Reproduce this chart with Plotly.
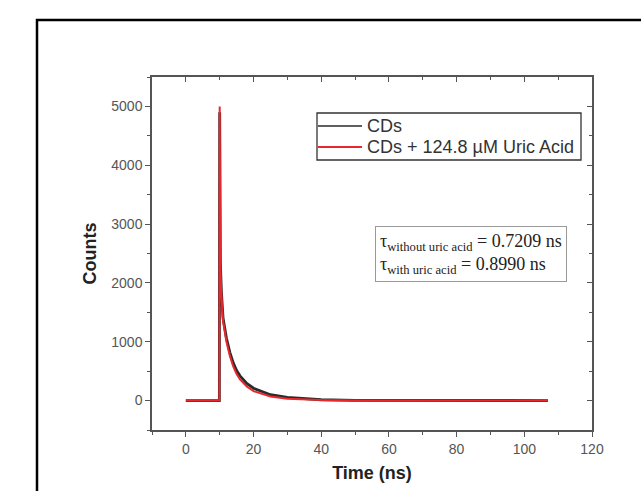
import plotly.graph_objects as go

# Time (ns) sample points
time_ns = [0, 9.9, 10.0, 10.2, 10.5, 11, 12, 13, 14, 15, 16, 18, 20, 25, 30, 40, 50, 70, 90, 107]
counts_cds = [0, 0, 4900, 2350, 1850, 1400, 1060, 820, 640, 510, 420, 290, 210, 100, 55, 14, 5, 2, 1, 0]
counts_cds_ua = [0, 0, 5000, 2300, 1800, 1350, 1000, 760, 580, 450, 360, 240, 160, 70, 30, 8, 3, 1, 0, 0]

series_names = ["CDs", "CDs + 124.8 µM Uric Acid"]
series_colors = ["#2a2a2a", "#e8282c"]
x_ticks = [0, 20, 40, 60, 80, 100, 120]
y_ticks = [0, 1000, 2000, 3000, 4000, 5000]

# plot-area geometry in pixels (for converting legend/frame positions to paper coords)
L, R, T, B = 152, 592, 77, 430
def px(x):
    return (x - L) / (R - L)
def py(y):
    return (B - y) / (B - T)

fig = go.Figure()
fig.add_trace(go.Scatter(x=time_ns, y=counts_cds, mode="lines", name=series_names[0],
                         line=dict(color=series_colors[0], width=2.8)))
fig.add_trace(go.Scatter(x=time_ns, y=counts_cds_ua, mode="lines", name=series_names[1],
                         line=dict(color=series_colors[1], width=2)))
# invisible trace for mirrored axes
fig.add_trace(go.Scatter(x=[-10], y=[-500], xaxis="x2", yaxis="y2", mode="markers",
                         marker=dict(opacity=0), showlegend=False, hoverinfo="skip"))

axcol = "#555555"
common = dict(showgrid=False, zeroline=False, showline=True, linecolor=axcol, linewidth=1.5,
              tickcolor=axcol, tickwidth=1.2, ticklen=5)
fig.update_layout(
    width=641, height=491,
    margin=dict(l=L, r=641 - R, t=T, b=491 - B),
    paper_bgcolor="white", plot_bgcolor="white",
    font=dict(family="Liberation Sans, Arial", color="#444444", size=14),
    showlegend=False,
    xaxis=dict(range=[-10, 120], tickvals=x_ticks, ticks="outside",
               minor=dict(dtick=10, ticks="outside", ticklen=3, tickcolor=axcol),
               title=dict(text="<b>Time (ns)</b>", font=dict(size=18, color="#222222"), standoff=11),
               tickfont=dict(size=14, color="#555555"), **common),
    yaxis=dict(range=[-500, 5500], tickvals=y_ticks, ticks="outside",
               minor=dict(dtick=500, ticks="outside", ticklen=3, tickcolor=axcol),
               title=dict(text="<b>Counts</b>", font=dict(size=18, color="#222222"), standoff=10),
               tickfont=dict(size=14, color="#555555"), **common),
    xaxis2=dict(range=[-10, 120], overlaying="x", side="top", tickvals=x_ticks,
                ticks="inside", showticklabels=False,
                minor=dict(dtick=10, ticks="inside", ticklen=3, tickcolor=axcol), **common),
    yaxis2=dict(range=[-500, 5500], overlaying="y", side="right", anchor="x", tickvals=y_ticks,
                ticks="inside", showticklabels=False,
                minor=dict(dtick=500, ticks="inside", ticklen=3, tickcolor=axcol), **common),
)

# legend box drawn as shapes + text
fig.add_shape(type="rect", xref="paper", yref="paper", x0=px(317), x1=px(581), y0=py(160), y1=py(113),
              line=dict(color="#333333", width=1.3), fillcolor="white", layer="above")
for i, (name, col) in enumerate(zip(series_names, series_colors)):
    yy = py(126 + 21 * i)
    fig.add_shape(type="line", xref="paper", yref="paper", x0=px(318), x1=px(362), y0=yy, y1=yy,
                  line=dict(color=col, width=1.8 if i else 1.5), layer="above")
    fig.add_annotation(xref="paper", yref="paper", x=px(365), y=yy, xanchor="left", yanchor="middle",
                       text=name, showarrow=False,
                       font=dict(family="Liberation Sans, Arial", size=18, color="#333333"))

fig.add_annotation(
    xref="paper", yref="paper", x=px(375), y=py(226), xanchor="left", yanchor="top",
    text="τ<sub>without uric acid</sub> = 0.7209 ns<br>τ<sub>with uric acid</sub> = 0.8990 ns",
    showarrow=False, align="left",
    font=dict(family="Liberation Serif, Times New Roman", size=18, color="#222222"),
    bordercolor="#999999", borderwidth=1, borderpad=4, bgcolor="white",
)

# outer black frame (cut off at right and bottom)
fig.add_shape(type="rect", xref="paper", yref="paper", x0=px(37), y0=py(560), x1=px(700), y1=py(20),
              line=dict(color="black", width=2.5), layer="below")

fig.write_html("out.html", config={"displayModeBar": False},
               post_script="document.body.style.margin='0';document.body.style.overflow='hidden';")
